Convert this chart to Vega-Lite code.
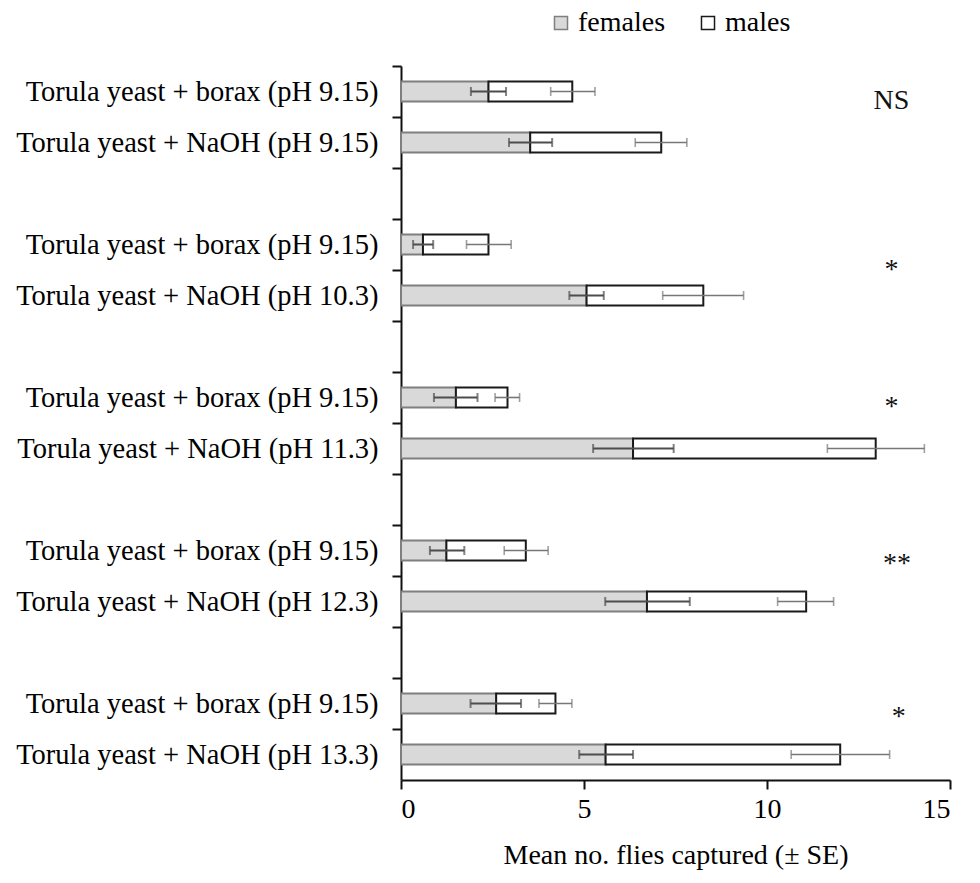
{
  "$schema": "https://vega.github.io/schema/vega-lite/v6.json",
  "width": 549,
  "height": 714,
  "autosize": {"type": "none"},
  "padding": {"left": 401, "top": 66, "right": 30, "bottom": 103},
  "background": "white",
  "config": {
    "font": "Liberation Serif",
    "view": {"stroke": null},
    "axis": {"grid": false}
  },
  "datasets": {
    "bars": [
      {"key": "1a|Torula yeast + borax (pH 9.15)", "sex": "females", "value": 2.39, "lo": 1.91, "hi": 2.87},
      {"key": "1a|Torula yeast + borax (pH 9.15)", "sex": "males", "value": 2.29, "lo": 4.09, "hi": 5.30},
      {"key": "1b|Torula yeast + NaOH (pH 9.15)", "sex": "females", "value": 3.53, "lo": 2.95, "hi": 4.13},
      {"key": "1b|Torula yeast + NaOH (pH 9.15)", "sex": "males", "value": 3.58, "lo": 6.40, "hi": 7.81},
      {"key": "2a|Torula yeast + borax (pH 9.15)", "sex": "females", "value": 0.60, "lo": 0.33, "hi": 0.88},
      {"key": "2a|Torula yeast + borax (pH 9.15)", "sex": "males", "value": 1.79, "lo": 1.79, "hi": 3.01},
      {"key": "2b|Torula yeast + NaOH (pH 10.3)", "sex": "females", "value": 5.07, "lo": 4.60, "hi": 5.54},
      {"key": "2b|Torula yeast + NaOH (pH 10.3)", "sex": "males", "value": 3.19, "lo": 7.15, "hi": 9.36},
      {"key": "3a|Torula yeast + borax (pH 9.15)", "sex": "females", "value": 1.50, "lo": 0.90, "hi": 2.09},
      {"key": "3a|Torula yeast + borax (pH 9.15)", "sex": "males", "value": 1.41, "lo": 2.57, "hi": 3.24},
      {"key": "3b|Torula yeast + NaOH (pH 11.3)", "sex": "females", "value": 6.34, "lo": 5.25, "hi": 7.45},
      {"key": "3b|Torula yeast + NaOH (pH 11.3)", "sex": "males", "value": 6.63, "lo": 11.65, "hi": 14.30},
      {"key": "4a|Torula yeast + borax (pH 9.15)", "sex": "females", "value": 1.24, "lo": 0.79, "hi": 1.73},
      {"key": "4a|Torula yeast + borax (pH 9.15)", "sex": "males", "value": 2.17, "lo": 2.82, "hi": 4.02},
      {"key": "4b|Torula yeast + NaOH (pH 12.3)", "sex": "females", "value": 6.72, "lo": 5.58, "hi": 7.89},
      {"key": "4b|Torula yeast + NaOH (pH 12.3)", "sex": "males", "value": 4.35, "lo": 10.29, "hi": 11.82},
      {"key": "5a|Torula yeast + borax (pH 9.15)", "sex": "females", "value": 2.60, "lo": 1.90, "hi": 3.28},
      {"key": "5a|Torula yeast + borax (pH 9.15)", "sex": "males", "value": 1.62, "lo": 3.77, "hi": 4.67},
      {"key": "5b|Torula yeast + NaOH (pH 13.3)", "sex": "females", "value": 5.59, "lo": 4.87, "hi": 6.34},
      {"key": "5b|Torula yeast + NaOH (pH 13.3)", "sex": "males", "value": 6.41, "lo": 10.66, "hi": 13.35}
    ],
    "sig": [
      {"grp": 1, "key": "1a|Torula yeast + borax (pH 9.15)", "sig": "NS", "x": 13.4},
      {"grp": 2, "key": "2a|Torula yeast + borax (pH 9.15)", "sig": "*", "x": 13.4},
      {"grp": 3, "key": "3a|Torula yeast + borax (pH 9.15)", "sig": "*", "x": 13.4},
      {"grp": 4, "key": "4a|Torula yeast + borax (pH 9.15)", "sig": "**", "x": 13.55},
      {"grp": 5, "key": "5a|Torula yeast + borax (pH 9.15)", "sig": "*", "x": 13.6}
    ]
  },
  "layer": [
    {
      "data": {"name": "bars"},
      "mark": {"type": "bar", "size": 20, "strokeWidth": 2},
      "encoding": {
        "y": {
          "field": "key",
          "type": "nominal",
          "scale": {
            "domain": [
              "1a|Torula yeast + borax (pH 9.15)", "1b|Torula yeast + NaOH (pH 9.15)", "1c|",
              "2a|Torula yeast + borax (pH 9.15)", "2b|Torula yeast + NaOH (pH 10.3)", "2c|",
              "3a|Torula yeast + borax (pH 9.15)", "3b|Torula yeast + NaOH (pH 11.3)", "3c|",
              "4a|Torula yeast + borax (pH 9.15)", "4b|Torula yeast + NaOH (pH 12.3)", "4c|",
              "5a|Torula yeast + borax (pH 9.15)", "5b|Torula yeast + NaOH (pH 13.3)"
            ],
            "paddingInner": 0,
            "paddingOuter": 0
          },
          "axis": {
            "title": null,
            "bandPosition": 0,
            "labelExpr": "split(datum.value, '|')[1]",
            "labelFont": "Liberation Serif",
            "labelFontSize": 28.5,
            "labelColor": "#000000",
            "labelPadding": 14,
            "labelLimit": 0,
            "tickSize": 9,
            "tickWidth": 2,
            "tickColor": "#111111",
            "domainColor": "#111111",
            "domainWidth": 2
          }
        },
        "x": {
          "field": "value",
          "type": "quantitative",
          "stack": "zero",
          "title": "Mean no. flies captured (± SE)",
          "scale": {"domain": [0, 15], "nice": false},
          "axis": {
            "values": [0, 5, 10, 15],
            "title": "Mean no. flies captured (± SE)",
            "titleFont": "Liberation Serif",
            "titleFontSize": 28,
            "titleFontWeight": "normal",
            "titleColor": "#000000",
            "titlePadding": 18,
            "labelFont": "Liberation Serif",
            "labelFontSize": 28,
            "labelColor": "#000000",
            "labelPadding": 6,
            "tickSize": 9,
            "tickWidth": 2,
            "tickColor": "#111111",
            "domainColor": "#111111",
            "domainWidth": 2
          }
        },
        "color": {
          "field": "sex",
          "type": "nominal",
          "scale": {"domain": ["females", "males"], "range": ["#d9d9d9", "#ffffff"]},
          "legend": {
            "title": null,
            "orient": "none",
            "legendX": 146,
            "legendY": -57,
            "direction": "horizontal",
            "labelFont": "Liberation Serif",
            "labelFontSize": 28,
            "labelColor": "#000000",
            "symbolType": "square",
            "symbolSize": 170,
            "symbolStrokeWidth": 1.5,
            "columnPadding": 28,
            "labelOffset": 3
          }
        },
        "stroke": {
          "field": "sex",
          "type": "nominal",
          "scale": {"domain": ["females", "males"], "range": ["#7f7f7f", "#1a1a1a"]},
          "legend": {
            "title": null,
            "orient": "none",
            "legendX": 146,
            "legendY": -57,
            "direction": "horizontal",
            "labelFont": "Liberation Serif",
            "labelFontSize": 28,
            "labelColor": "#000000",
            "symbolType": "square",
            "symbolSize": 170,
            "symbolStrokeWidth": 1.5,
            "columnPadding": 28,
            "labelOffset": 3
          }
        }
      }
    },
    {
      "data": {"name": "bars"},
      "transform": [{"filter": "datum.sex === 'females'"}],
      "mark": {"type": "errorbar", "ticks": true, "color": "#4d4d4d", "size": 9, "thickness": 2},
      "encoding": {
        "y": {"field": "key", "type": "nominal"},
        "x": {"field": "lo", "type": "quantitative", "title": "Mean no. flies captured (± SE)"},
        "x2": {"field": "hi"}
      }
    },
    {
      "data": {"name": "bars"},
      "transform": [{"filter": "datum.sex === 'males'"}],
      "mark": {"type": "errorbar", "ticks": true, "color": "#777777", "size": 9, "thickness": 1.6},
      "encoding": {
        "y": {"field": "key", "type": "nominal"},
        "x": {"field": "lo", "type": "quantitative", "title": "Mean no. flies captured (± SE)"},
        "x2": {"field": "hi"}
      }
    },
    {
      "data": {"name": "sig"},
      "transform": [{"filter": "datum.grp === 1 || datum.grp === 3"}],
      "mark": {"type": "text", "font": "Liberation Serif", "fontSize": 28, "color": "#111111"},
      "encoding": {
        "y": {"field": "key", "type": "nominal", "bandPosition": 0.68},
        "x": {"field": "x", "type": "quantitative", "title": "Mean no. flies captured (± SE)"},
        "text": {"field": "sig"}
      }
    },
    {
      "data": {"name": "sig"},
      "transform": [{"filter": "datum.grp === 4 || datum.grp === 5"}],
      "mark": {"type": "text", "font": "Liberation Serif", "fontSize": 28, "color": "#111111"},
      "encoding": {
        "y": {"field": "key", "type": "nominal", "bandPosition": 0.76},
        "x": {"field": "x", "type": "quantitative", "title": "Mean no. flies captured (± SE)"},
        "text": {"field": "sig"}
      }
    },
    {
      "data": {"name": "sig"},
      "transform": [{"filter": "datum.grp === 2"}],
      "mark": {"type": "text", "font": "Liberation Serif", "fontSize": 28, "color": "#111111"},
      "encoding": {
        "y": {"field": "key", "type": "nominal", "bandPosition": 1},
        "x": {"field": "x", "type": "quantitative", "title": "Mean no. flies captured (± SE)"},
        "text": {"field": "sig"}
      }
    }
  ]
}
